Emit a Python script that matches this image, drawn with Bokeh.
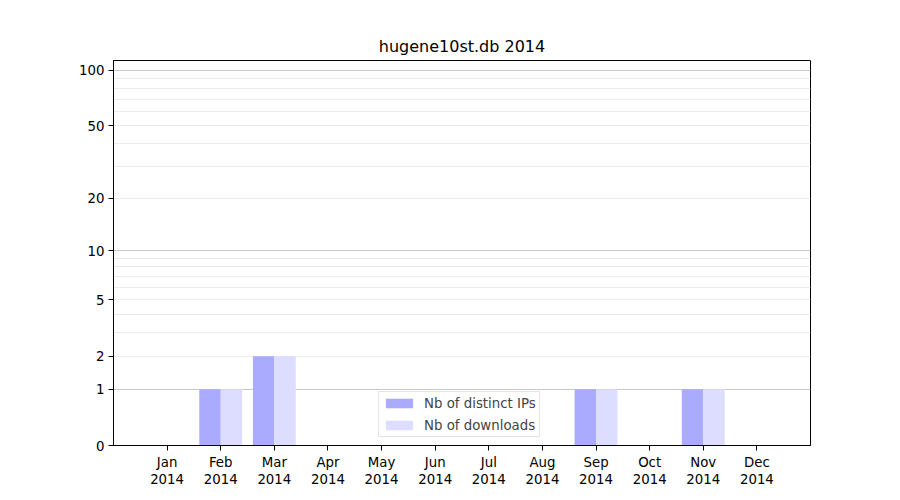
import math
from bokeh.plotting import figure
from bokeh.models import FixedTicker, Grid, Range1d, Legend, LegendItem
from bokeh.embed import file_html
from bokeh.resources import INLINE

# ---- data ----
months = ["Jan", "Feb", "Mar", "Apr", "May", "Jun", "Jul", "Aug", "Sep", "Oct", "Nov", "Dec"]
year = "2014"
distinct_ips = [0, 1, 2, 0, 0, 0, 0, 0, 1, 0, 1, 0]
downloads = [0, 1, 2, 0, 0, 0, 0, 0, 1, 0, 1, 0]
y_tick_values = [0, 1, 2, 5, 10, 20, 50, 100]
y_major_grid_values = [0, 1, 10, 100]
y_minor_grid_values = [2, 3, 4, 5, 6, 7, 8, 9, 20, 30, 40, 50, 60, 70, 80, 90]
title_text = "hugene10st.db 2014"


def tr(v):
    return math.log10(1 + v)


xpos = list(range(1, len(months) + 1))

p = figure(
    output_backend="svg",
    toolbar_location=None,
    frame_width=697,
    frame_height=385,
    min_border_left=113,
    min_border_right=74,
    min_border_top=60,
    min_border_bottom=45,
    x_range=Range1d(0, 13),
    y_range=Range1d(0, 2.057),
    title=title_text,
)
p.background_fill_color = "white"
p.border_fill_color = "white"
p.outline_line_color = "black"
p.outline_line_width = 1

p.title.align = "center"
p.title.text_font = "DejaVu Sans"
p.title.text_font_size = "16px"
p.title.text_font_style = "normal"
p.title.text_color = "black"

p.xgrid.visible = False
p.ygrid.visible = False

# grids
minor_grid = Grid(dimension=1, ticker=FixedTicker(ticks=[tr(v) for v in y_minor_grid_values]),
                  grid_line_color="#ebebeb", grid_line_width=1)
major_grid = Grid(dimension=1, ticker=FixedTicker(ticks=[tr(v) for v in y_major_grid_values]),
                  grid_line_color="#c8c8c8", grid_line_width=1)
p.add_layout(minor_grid)
p.add_layout(major_grid)

# bars
r1 = p.vbar(x=[x - 0.2 for x in xpos], top=[tr(v) for v in distinct_ips], bottom=0, width=0.4,
            fill_color="#aaaaff", line_color=None)
r2 = p.vbar(x=[x + 0.2 for x in xpos], top=[tr(v) for v in downloads], bottom=0, width=0.4,
            fill_color="#ddddff", line_color=None)

# axes
yax = p.yaxis[0]
yax.ticker = FixedTicker(ticks=[tr(v) for v in y_tick_values], minor_ticks=[])
yax.major_label_overrides = {tr(v): str(v) for v in y_tick_values}
xax = p.xaxis[0]
xax.ticker = FixedTicker(ticks=xpos, minor_ticks=[])
xax.major_label_overrides = {x: f"{m}\n{year}" for x, m in zip(xpos, months)}

for ax in (xax, yax):
    ax.axis_line_color = "black"
    ax.major_tick_line_color = "black"
    ax.major_tick_out = 5
    ax.major_tick_in = 0
    ax.minor_tick_line_color = None
    ax.major_label_text_font = "DejaVu Sans"
    ax.major_label_text_font_size = "13.33px"
    ax.major_label_text_color = "black"
    ax.major_label_standoff = 4
xax.major_label_text_line_height = 1.15

legend = Legend(
    items=[LegendItem(label="Nb of distinct IPs", renderers=[r1]),
           LegendItem(label="Nb of downloads", renderers=[r2])],
    location=(265, 8),
    orientation="vertical",
    label_text_font="DejaVu Sans",
    label_text_font_size="13.33px",
    glyph_width=34,
    glyph_height=12,
    label_height=16,
    label_standoff=8,
    padding=3,
    spacing=6,
    margin=0,
    border_line_color="#cccccc",
    border_line_width=1,
    background_fill_color="white",
    background_fill_alpha=0.8,
)
p.add_layout(legend, "center")

open("out.html", "w").write(file_html(p, INLINE))
